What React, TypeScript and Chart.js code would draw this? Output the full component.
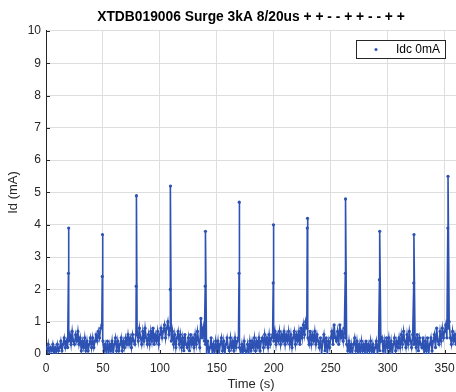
import React, { useEffect, useRef } from "react";
import { Chart, registerables } from "chart.js";

Chart.register(...registerables);

const chartTitle = "XTDB019006 Surge 3kA 8/20us + + - - + + - - + +";
const xAxisTitle = "Time (s)";
const yAxisTitle = "Id (mA)";
const seriesLabel = "Idc 0mA";
const lineColor = "#2d52b4";

const xTicks = [0, 50, 100, 150, 200, 250, 300, 350];
const yTicks = [0, 1, 2, 3, 4, 5, 6, 7, 8, 9, 10];
const xRange = [0, 360];
const yRange = [0, 10];

// baseline samples, one per second starting at t = 0
const baseline = [
  0.2, 0.0, 0.3, 0.0, 0.2, 0.1, 0.3, 0.0, 0.2, 0.0,
  0.3, 0.1, 0.2, 0.4, 0.1, 0.3, 0.5, 0.2, 0.4, 0.2,
  0.4, 0.6, 0.3, 0.7, 0.4, 0.3, 0.6, 0.4, 0.7, 0.3,
  0.5, 0.1, 0.4, 0.2, 0.5, 0.1, 0.4, 0.1, 0.3, 0.5,
  0.2, 0.5, 0.2, 0.4, 0.6, 0.4, 0.7, 0.5, 0.8, 0.9,
  0.4, 0.1, 0.3, 0.0, 0.4, 0.0, 0.3, 0.1, 0.4, 0.0,
  0.3, 0.5, 0.1, 0.4, 0.1, 0.3, 0.5, 0.1, 0.4, 0.2,
  0.5, 0.3, 0.6, 0.3, 0.5, 0.2, 0.6, 0.4, 0.3, 0.6,
  0.7, 0.4, 0.8, 0.5, 0.3, 0.7, 0.4, 0.8, 0.5, 0.3,
  0.6, 0.3, 0.7, 0.4, 0.8, 0.3, 0.6, 0.4, 0.7, 0.3,
  0.6, 0.8, 0.5, 0.7, 0.9, 0.5, 0.8, 1.0, 0.6, 0.8,
  0.4, 0.7, 0.3, 0.6, 0.2, 0.5, 0.7, 0.3, 0.6, 0.2,
  0.5, 0.1, 0.6, 0.3, 0.2, 0.5, 0.1, 0.6, 0.3, 0.5,
  0.2, 0.6, 0.3, 0.7, 0.4, 0.2, 1.1, 0.5, 0.8, 0.4,
  0.3, 0.0, 0.4, 0.0, 0.2, 0.5, 0.0, 0.3, 0.0, 0.4,
  0.1, 0.4, 0.0, 0.3, 0.5, 0.1, 0.4, 0.0, 0.3, 0.5,
  0.2, 0.1, 0.5, 0.2, 0.4, 0.1, 0.5, 0.2, 0.4, 0.5,
  0.2, 0.0, 0.3, 0.0, 0.4, 0.1, 0.0, 0.3, 0.0, 0.4,
  0.1, 0.4, 0.2, 0.5, 0.1, 0.4, 0.2, 0.5, 0.1, 0.4,
  0.5, 0.2, 0.6, 0.3, 0.5, 0.2, 0.6, 0.3, 0.5, 0.6,
  0.4, 0.7, 0.3, 0.6, 0.4, 0.7, 0.3, 0.6, 0.4, 0.7,
  0.3, 0.6, 0.4, 0.7, 0.3, 0.6, 0.2, 0.5, 0.7, 0.3,
  0.6, 0.4, 0.7, 0.3, 0.8, 0.5, 0.9, 0.6, 1.0, 0.8,
  0.5, 0.3, 0.7, 0.3, 0.6, 0.4, 0.7, 0.3, 0.6, 0.4,
  0.2, 0.5, 0.0, 0.4, 0.6, 0.1, 0.5, 0.0, 0.4, 0.2,
  0.5, 0.7, 0.3, 0.9, 0.5, 0.4, 0.7, 0.3, 0.9, 0.5,
  0.7, 0.4, 0.8, 0.5, 0.3, 0.1, 0.4, 0.0, 0.3, 0.0,
  0.3, 0.5, 0.1, 0.4, 0.0, 0.3, 0.0, 0.4, 0.1, 0.3,
  0.0, 0.4, 0.0, 0.3, 0.1, 0.4, 0.0, 0.3, 0.0, 0.2,
  0.4, 0.0, 0.3, 0.1, 0.4, 0.5, 0.1, 0.4, 0.0, 0.5,
  0.2, 0.5, 0.1, 0.4, 0.0, 0.3, 0.5, 0.1, 0.4, 0.2,
  0.5, 0.2, 0.6, 0.3, 0.7, 0.4, 0.2, 0.6, 0.3, 0.7,
  0.4, 0.2, 0.6, 0.3, 0.5, 0.2, 0.6, 0.1, 0.5, 0.3,
  0.2, 0.5, 0.0, 0.4, 0.1, 0.5, 0.0, 0.3, 0.5, 0.1,
  0.4, 0.6, 0.2, 0.8, 0.4, 0.3, 0.7, 0.4, 0.8, 0.5,
  0.7, 0.9, 0.5, 0.8, 1.0, 0.5, 0.3, 0.7, 0.4, 0.6,
  0.3,
];

// surge spikes
const spikeTimes = [19.9, 49.6, 79.4, 109.3, 140.0, 169.7, 199.7, 229.6, 263.0, 293.0, 323.1, 353.0];
const spikePeaks = [3.9, 3.7, 4.9, 5.2, 3.8, 4.7, 4.0, 4.2, 4.8, 3.8, 3.7, 5.5];
const spikeMids = [2.5, 2.4, 2.1, 2.0, 2.1, 2.5, 2.2, 3.9, 2.5, 2.3, 2.2, 3.9];

const FONT = '"Liberation Sans", Arial, Helvetica, sans-serif';

function buildPoints() {
  const pts: { x: number; y: number }[] = baseline.map((v, i) => ({ x: i, y: v }));
  spikeTimes.forEach((t, i) => {
    pts.push({ x: t - 0.2, y: spikeMids[i] });
    pts.push({ x: t, y: spikePeaks[i] });
  });
  pts.sort((a, b) => a.x - b.x);
  return pts;
}

const legendBoxPlugin = {
  id: "legendBox",
  afterDraw(chart: any) {
    const ctx = chart.ctx;
    const ds = chart.data.datasets[0];
    const area = chart.chartArea;
    const w = 89;
    const h = 18;
    const x = Math.round(area.right - 11 - w);
    const y = Math.round(area.top + 9);
    ctx.save();
    ctx.fillStyle = "#ffffff";
    ctx.fillRect(x, y, w, h);
    ctx.strokeStyle = "#262626";
    ctx.lineWidth = 1;
    ctx.strokeRect(x + 0.5, y + 0.5, w, h);
    ctx.fillStyle = ds.borderColor;
    ctx.beginPath();
    ctx.arc(x + 20, y + h / 2 + 0.5, 1.5, 0, Math.PI * 2);
    ctx.fill();
    ctx.fillStyle = "#000000";
    ctx.font = "12px " + FONT;
    ctx.textAlign = "left";
    ctx.textBaseline = "middle";
    ctx.fillText(ds.label, x + 40, y + h / 2 + 1);
    ctx.restore();
  },
};

const innerTicksPlugin = {
  id: "innerTicks",
  afterDatasetsDraw(chart: any) {
    const ctx = chart.ctx;
    const { left, bottom } = chart.chartArea;
    const xs = chart.scales.x;
    const ys = chart.scales.y;
    ctx.save();
    ctx.strokeStyle = "#262626";
    ctx.lineWidth = 1;
    ctx.beginPath();
    yTicks.forEach((v) => {
      const py = Math.round(ys.getPixelForValue(v)) + 0.5;
      ctx.moveTo(left, py);
      ctx.lineTo(left + 4, py);
    });
    xTicks.forEach((v) => {
      const px = Math.round(xs.getPixelForValue(v)) + 0.5;
      ctx.moveTo(px, bottom);
      ctx.lineTo(px, bottom - 4);
    });
    ctx.stroke();
    ctx.restore();
  },
};

export default function App() {
  const canvasRef = useRef<HTMLCanvasElement | null>(null);

  useEffect(() => {
    if (!canvasRef.current) return;
    const chart = new Chart(canvasRef.current, {
      type: "line",
      data: {
        datasets: [
          {
            label: seriesLabel,
            data: buildPoints(),
            borderColor: lineColor,
            backgroundColor: lineColor,
            borderWidth: 1.6,
            pointRadius: 1.6,
            pointBorderWidth: 0,
            pointBackgroundColor: lineColor,
            tension: 0,
          },
        ],
      },
      plugins: [legendBoxPlugin, innerTicksPlugin],
      options: {
        animation: false,
        responsive: false,
        devicePixelRatio: 1,
        parsing: false,
        layout: { autoPadding: false, padding: { left: 0, right: 0, top: 0, bottom: 0 } },
        plugins: {
          legend: { display: false },
          tooltip: { enabled: false },
          title: {
            display: true,
            text: chartTitle,
            fullSize: false,
            color: "#000000",
            font: { family: FONT, size: 13.8, weight: "bold" },
            padding: { top: 9, bottom: 5.4 },
          },
        },
        scales: {
          x: {
            type: "linear",
            min: xRange[0],
            max: xRange[1],
            afterBuildTicks: (axis: any) => {
              axis.ticks = xTicks.map((v) => ({ value: v }));
            },
            afterFit: (scale: any) => {
              scale.height = 38;
              scale.paddingLeft = 0;
              scale.paddingRight = 0;
            },
            grid: { color: "#dedede", lineWidth: 1, drawTicks: false },
            border: { color: "#262626", width: 1 },
            ticks: {
              color: "#262626",
              padding: 7,
              maxRotation: 0,
              autoSkip: false,
              font: { family: FONT, size: 12 },
            },
            title: {
              display: true,
              text: xAxisTitle,
              color: "#262626",
              font: { family: FONT, size: 13 },
              padding: { top: 0, bottom: 0 },
            },
          },
          y: {
            type: "linear",
            min: yRange[0],
            max: yRange[1],
            afterBuildTicks: (axis: any) => {
              axis.ticks = yTicks.map((v) => ({ value: v }));
            },
            afterFit: (scale: any) => {
              scale.width = 46;
              scale.paddingTop = 0;
              scale.paddingBottom = 0;
            },
            grid: { color: "#dedede", lineWidth: 1, drawTicks: false },
            border: { color: "#262626", width: 1 },
            ticks: {
              color: "#262626",
              padding: 5,
              autoSkip: false,
              font: { family: FONT, size: 12 },
            },
            title: {
              display: true,
              text: yAxisTitle,
              color: "#262626",
              font: { family: FONT, size: 13 },
              padding: { top: 6, bottom: 0 },
            },
          },
        },
      } as any,
    });
    return () => chart.destroy();
  }, []);

  return (
    <div style={{ position: "fixed", left: 0, top: 0, width: 456, height: 392, background: "#ffffff" }}>
      <canvas ref={canvasRef} width={456} height={392} style={{ width: 456, height: 392 }} />
    </div>
  );
}
